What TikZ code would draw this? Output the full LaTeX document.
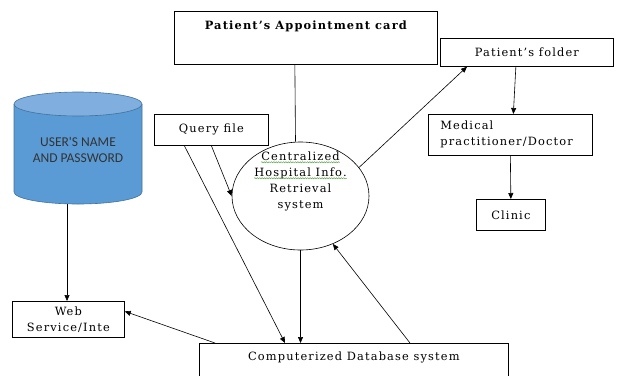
\documentclass[tikz,border=0pt]{standalone}
\usepackage{fontspec}
\setmainfont{DejaVu Serif}[LetterSpace=10]
\newfontfamily\dbsans{Carlito}
\usepackage{tikz}
\usetikzlibrary{arrows.meta}
\usetikzlibrary{positioning}
\usetikzlibrary{shapes.geometric}
\usetikzlibrary{decorations.pathmorphing}
\definecolor{dbblue}{HTML}{5B9BD5}
\definecolor{dbtop}{HTML}{80AFDF}
\definecolor{dbline}{HTML}{41719C}
\definecolor{spell}{HTML}{5CA84A}
\newcommand{\spellmark}[1]{\tikz[baseline=(sw.base)]{\node[inner sep=0pt] (sw) {#1};
  \draw[spell, line width=0.5pt, decorate, decoration={snake, amplitude=0.6pt, segment length=2.4pt}]
    ([yshift=-2.2pt]sw.base west) -- ([yshift=-2.2pt]sw.base east);}}

\begin{document}
\begin{tikzpicture}[x=1pt, y=-1pt,
    font=\fontsize{11.4}{16}\selectfont,
    box/.style={draw, line width=0.7pt, inner sep=0pt},
    arr/.style={-{Triangle[length=6pt, width=5pt]}, line width=0.6pt}]
    \useasboundingbox (0,0) rectangle (617,375);
    \clip (0,0) rectangle (617,375);

    % Tarjeta de cita
    \node[box, anchor=north west, minimum width=263, minimum height=53] (card) at (174,11) {};
    \node[anchor=north, font=\fontsize{11.4}{16}\bfseries] (card-txt) at ([yshift=-6]card.north) {Patient's Appointment card};

    % Carpeta, medico y clinica
    \node[box, anchor=north west, minimum width=173, minimum height=28] (folder) at (440,38) {Patient's folder};
    \node[box, anchor=north west, text width=140, inner xsep=12, minimum height=41, align=left] (medical) at (428,114) {Medical\\practitioner/Doctor};
    \node[box, anchor=north west, minimum width=69, minimum height=31] (clinic) at (476,199) {Clinic};

    % Base de usuarios (cilindro)
    \filldraw[fill=dbblue, draw=dbline, line width=0.6pt] (14,104) -- (14,192)
        arc[start angle=180, end angle=0, x radius=64, y radius=12] -- (142,104);
    \filldraw[fill=dbtop, draw=dbline, line width=0.6pt] (78,104) ellipse [x radius=64, y radius=12];
    \node[font=\dbsans\fontsize{13.5}{15.5}\selectfont, text=black!80, align=center] (users) at (78,150) {USER'S NAME\\AND PASSWORD};
    \coordinate (users-base) at (67,204);

    % Consulta, sistema central y servicio web
    \node[box, anchor=north west, minimum width=114, minimum height=31] (query) at (154,114) {Query file};
    \node[draw, ellipse, line width=0.6pt, minimum width=137, minimum height=108] (circ) at (300.5,196) {};
    \node[align=center, inner sep=0pt] (circ-txt) at ([yshift=15]circ.center) {\spellmark{Centralized}\\\spellmark{Hospital Info.}\\Retrieval\\system};
    \node[box, anchor=north west, minimum width=112, minimum height=36, align=center] (web) at (12,301) {Web\\Service/Inte};

    % Base de datos
    \node[box, anchor=north west, minimum width=309, minimum height=60] (db) at (199,343) {};
    \node[anchor=north] (db-txt) at ([yshift=-5]db.north) {Computerized Database system};

    % Conexiones
    \draw[line width=0.6pt] ([xshift=-11]card.south) -- ([xshift=-5]circ.north);
    \draw[arr] (circ.26) -- ([xshift=27]folder.south west);
    \draw[arr] ([xshift=-11]folder.south) -- ([xshift=3]medical.north);
    \draw[arr] (medical.south) -- (clinic.north);
    \draw[arr] (users-base) -- (users-base |- web.north);
    \draw[arr] ([xshift=-27]query.south) -- ([xshift=86]db.north west);
    \draw[arr] (query.south) -- (circ.west);
    \draw[arr] (circ.south) -- (circ.south |- db.north);
    \draw[arr] ([xshift=211]db.north west) -- (circ.-56);
    \draw[arr] ([xshift=16]db.north west) -- ([yshift=8]web.east);
\end{tikzpicture}
\end{document}
